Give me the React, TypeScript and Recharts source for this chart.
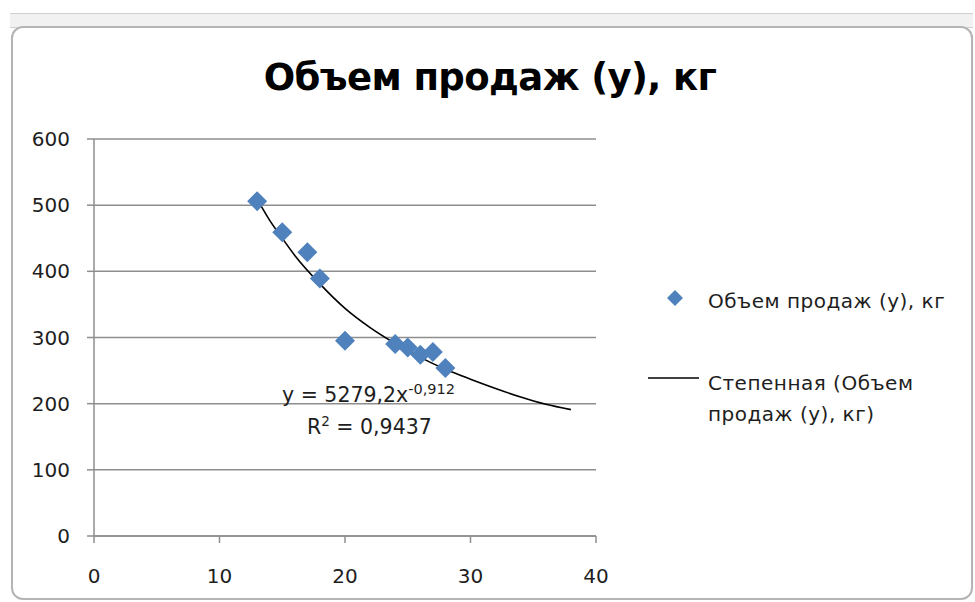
import React from "react";
import {
  ComposedChart,
  Scatter,
  Line,
  XAxis,
  YAxis,
  CartesianGrid,
} from "recharts";

// observed points: price (x) vs sales volume (y), kg
const priceX = [13, 15, 17, 18, 20, 24, 25, 26, 27, 28];
const salesY = [506, 459, 429, 389, 295, 290, 285, 274, 278, 254];

// power trendline
const trendX = [13, 14, 15, 16, 18, 20, 22, 24, 26, 28, 30, 32, 34, 36, 38];
const trendY = [509, 477, 450, 424, 381, 344, 315, 291, 270, 252, 237, 223, 210, 199, 191];

const xTicks = [0, 10, 20, 30, 40];
const yTicks = [0, 100, 200, 300, 400, 500, 600];

const TITLE = "Объем продаж (y), кг";
const SERIES_NAME = "Объем продаж (y), кг";
const TREND_NAME_1 = "Степенная (Объем";
const TREND_NAME_2 = "продаж (y), кг)";

const points = priceX.map((x, i) => ({ x, y: salesY[i] }));
const trend = trendX.map((x, i) => ({ x, y: trendY[i] }));

const BLUE = "#4f81bd";
const GRID = "#8e8e8e";
const TEXT = "#1e1e1e";
const FONT = "'DejaVu Sans', sans-serif";

const Diamond = (props: any) => {
  const { cx, cy } = props;
  if (cx == null || cy == null) return null;
  const r = 10;
  return (
    <polygon
      points={`${cx},${cy - r} ${cx + r},${cy} ${cx},${cy + r} ${cx - r},${cy}`}
      fill={BLUE}
    />
  );
};

export default function App() {
  const tick = { fill: TEXT, fontSize: 20, fontFamily: FONT };
  return (
    <div
      style={{
        position: "absolute",
        left: 0,
        top: 0,
        width: 975,
        height: 602,
        background: "#fff",
        fontFamily: FONT,
        overflow: "hidden",
      }}
    >
      {/* sheet header strip */}
      <div
        style={{
          position: "absolute",
          left: 10,
          top: 13,
          width: 963,
          height: 13,
          background: "#f1f1f1",
          borderTop: "1px solid #d0d0d0",
          borderBottom: "1px solid #cfcfcf",
        }}
      />
      {/* chart frame */}
      <div
        style={{
          position: "absolute",
          left: 11,
          top: 26,
          width: 958,
          height: 570,
          border: "2px solid #b4b4b4",
          borderRadius: 12,
          background: "#fff",
        }}
      />
      <div
        style={{
          position: "absolute",
          left: 0,
          top: 56,
          width: 980,
          textAlign: "center",
          fontSize: 37,
          fontWeight: "bold",
          color: "#000",
          letterSpacing: -0.6,
        }}
      >
        {TITLE}
      </div>

      <div style={{ position: "absolute", left: 0, top: 0 }}>
        <ComposedChart
          width={975}
          height={602}
          margin={{ top: 139, right: 379, bottom: 26, left: 0 }}
        >
          <CartesianGrid
            vertical={false}
            stroke={GRID}
            strokeWidth={1.5}
          />
          <XAxis
            dataKey="x"
            type="number"
            domain={[0, 40]}
            ticks={xTicks}
            allowDataOverflow
            height={40}
            stroke={GRID}
            strokeWidth={1.5}
            tickSize={7}
            tickMargin={26}
            tick={tick}
          />
          <YAxis
            type="number"
            domain={[0, 600]}
            ticks={yTicks}
            width={94}
            stroke={GRID}
            strokeWidth={1.5}
            tickSize={7}
            tickMargin={17}
            tick={tick}
          />
          <Line
            data={trend}
            dataKey="y"
            type="monotone"
            stroke="#000"
            strokeWidth={1.6}
            dot={false}
            isAnimationActive={false}
          />
          <Scatter
            data={points}
            dataKey="y"
            fill={BLUE}
            shape={Diamond}
            isAnimationActive={false}
          />
        </ComposedChart>
      </div>

      <svg
        width={975}
        height={602}
        style={{ position: "absolute", left: 0, top: 0, pointerEvents: "none" }}
      >
        <g fontFamily={FONT} fill={TEXT}>
          <text x={282} y={402} fontSize={20.5}>
            y = 5279,2x
            <tspan fontSize={14.5} dy={-8}>-0,912</tspan>
          </text>
          <text x={307} y={434} fontSize={20.5}>
            R
            <tspan fontSize={13.5} dy={-8}>2</tspan>
            <tspan dy={8}> = 0,9437</tspan>
          </text>

          <polygon points="675,290 683,298 675,306 667,298" fill={BLUE} />
          <text x={708} y={308} fontSize={20} letterSpacing={0.5}>
            {SERIES_NAME}
          </text>
          <line x1={648} y1={378} x2={699} y2={378} stroke="#000" strokeWidth={1.6} />
          <text x={708} y={390} fontSize={20} letterSpacing={0.5}>
            {TREND_NAME_1}
          </text>
          <text x={708} y={421} fontSize={20} letterSpacing={0.5}>
            {TREND_NAME_2}
          </text>
        </g>
      </svg>
    </div>
  );
}
